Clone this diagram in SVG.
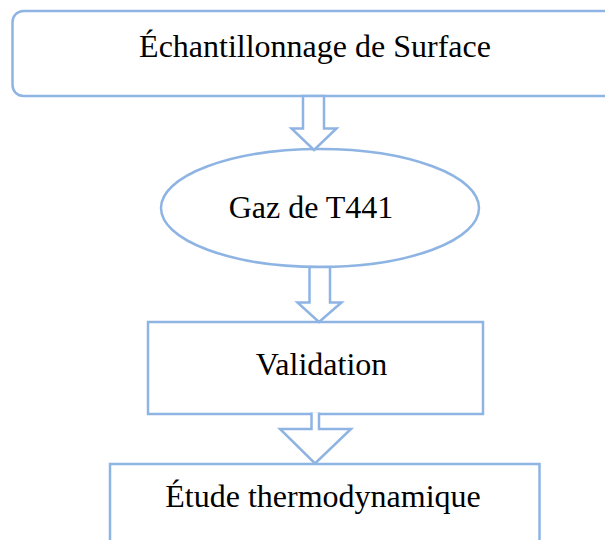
<svg xmlns="http://www.w3.org/2000/svg" width="605" height="540" viewBox="0 0 605 540">
<style>
.shape{fill:#FFFFFF;stroke:#8EB4E3;stroke-width:2.5}
.lbl{font-family:"Liberation Serif","Times New Roman",serif;font-size:32px;fill:#000000;text-anchor:middle}
</style>
<rect width="605" height="540" fill="#FFFFFF"/>
<g id="node-echantillonnage">
<rect class="shape" x="12.5" y="11" width="620" height="85" rx="11" ry="11"/>
<text class="lbl" x="315" y="57">Échantillonnage de Surface</text>
</g>
<g id="node-gaz">
<ellipse class="shape" cx="320" cy="208" rx="159" ry="59"/>
<text class="lbl" x="311" y="218">Gaz de T441</text>
</g>
<g id="node-validation">
<rect class="shape" x="148" y="322" width="335" height="92"/>
<text class="lbl" x="321.5" y="375">Validation</text>
</g>
<g id="node-etude">
<rect class="shape" x="110" y="464" width="429.5" height="100"/>
<text class="lbl" x="323" y="506.5">Étude thermodynamique</text>
</g>
<g id="connectors">
<polygon class="shape" points="303,96 324,96 324,128.5 336.5,128.5 314,150 291.5,128.5 303,128.5"/>
<polygon class="shape" points="309.5,267 330,267 330,302.5 341.5,302.5 319,322 297.5,302.5 309.5,302.5"/>
<path class="shape" d="M311.5,412.5 V429 H280 L315,463.5 L351,429 H319 V412.5"/>
</g>
</svg>
